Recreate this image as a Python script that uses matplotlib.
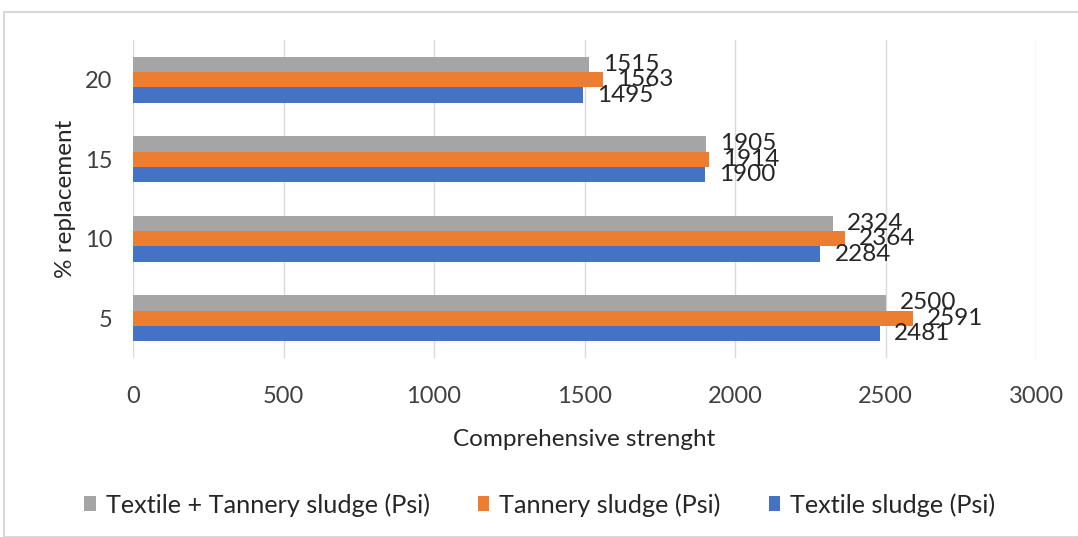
import matplotlib
matplotlib.use("Agg")
import matplotlib.pyplot as plt
import numpy as np
from matplotlib.patches import Rectangle

categories = ["5", "10", "15", "20"]
textile = [2481, 2284, 1900, 1495]
tannery = [2591, 2364, 1914, 1563]
combined = [2500, 2324, 1905, 1515]
xticks = [0, 500, 1000, 1500, 2000, 2500, 3000]

plt.rcParams['font.family'] = ['Lato', 'DejaVu Sans']

fig = plt.figure(figsize=(10.78, 5.37), dpi=100)
fig.patches.append(Rectangle((4/1078, 0), 1.0, 1 - 12/537, transform=fig.transFigure,
                             fill=False, edgecolor='#d9d9d9', linewidth=1.5))
ax = fig.add_axes([133/1078, 1 - 358/537, (1036-133)/1078, (358-40)/537])

y = np.arange(len(categories))
h = 0.194
series = [
    (textile, -h, '#4472C4', 'Textile sludge (Psi)'),
    (tannery, 0, '#ED7D31', 'Tannery sludge (Psi)'),
    (combined, h, '#A5A5A5', 'Textile + Tannery sludge (Psi)'),
]
handles = {}
for vals, off, col, lab in series:
    bars = ax.barh(y + off, vals, height=h, color=col, label=lab, zorder=3)
    handles[lab] = bars
    for yy, v in zip(y + off, vals):
        ax.annotate(str(v), (v, yy), xytext=(14, 0), textcoords='offset pixels',
                    ha='left', va='center', fontsize=17.5, color='#262626', zorder=4)

ax.set_xlim(0, 3000)
ax.set_ylim(-0.5, 3.5)
ax.set_xticks(xticks)
ax.set_xticklabels([str(t) for t in xticks])
ax.set_yticks(y)
ax.set_yticklabels(categories)
ax.tick_params(axis='both', length=0, labelsize=17, colors='#404040')
ax.tick_params(axis='x', pad=20)
ax.tick_params(axis='y', pad=15)
ax.grid(axis='x', color='#d9d9d9', linewidth=1, zorder=0)
for s in ax.spines.values():
    s.set_visible(False)

ax.set_xlabel('Comprehensive strenght', fontsize=17.5, color='#262626', labelpad=16)
ax.set_ylabel('% replacement', fontsize=17.5, color='#262626', labelpad=6)

order = ['Textile + Tannery sludge (Psi)', 'Tannery sludge (Psi)', 'Textile sludge (Psi)']
fig.legend([handles[o] for o in order], order, loc='center', bbox_to_anchor=(540/1078, 1 - 505/537),
           ncol=3, frameon=False, fontsize=18.2, handlelength=0.45, handleheight=0.55,
           handletextpad=0.4, columnspacing=1.9, labelcolor='#262626')

fig.savefig('out.png', dpi=100, facecolor='white')
